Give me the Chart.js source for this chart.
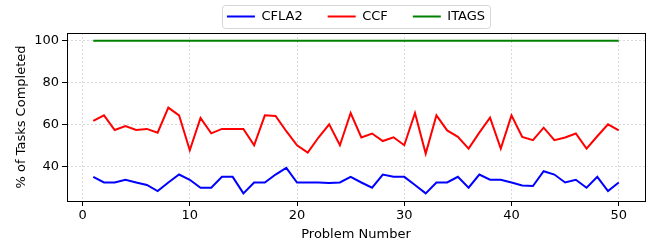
<!DOCTYPE html>
<html>
<head>
<meta charset="utf-8">
<script src="https://cdn.jsdelivr.net/npm/chart.js@4.4.1/dist/chart.umd.min.js"></script>
<style>
  html, body { margin: 0; padding: 0; background: #fff; }
  #wrap { width: 656px; height: 247px; }
</style>
</head>
<body>
<div id="wrap"><canvas id="taskChart" width="656" height="247"></canvas></div>
<script>
// problem numbers on the x axis
const problems = [1, 2, 3, 4, 5, 6, 7, 8, 9, 10, 11, 12, 13, 14, 15, 16, 17, 18, 19, 20,
  21, 22, 23, 24, 25, 26, 27, 28, 29, 30, 31, 32, 33, 34, 35, 36, 37, 38, 39, 40,
  41, 42, 43, 44, 45, 46, 47, 48, 49, 50];

// % of tasks completed
const cfla2 = [34.9, 32.2, 32.2, 33.5, 32.2, 31.0, 28.1, 32.2, 36.0, 33.5,
  29.7, 29.7, 34.9, 34.9, 27.0, 32.2, 32.2, 36.0, 39.2, 32.2,
  32.2, 32.2, 32.0, 32.2, 34.9, 32.2, 29.7, 36.0, 34.9, 34.9,
  31.0, 27.0, 32.2, 32.2, 34.9, 29.7, 36.0, 33.5, 33.5, 32.2,
  30.8, 30.5, 37.6, 36.0, 32.2, 33.5, 29.7, 34.9, 28.1, 32.2];

const ccf = [61.6, 64.3, 57.3, 59.2, 57.3, 57.8, 56.0, 68.0, 64.3, 47.6,
  63.0, 55.7, 57.8, 57.8, 57.8, 50.0, 64.3, 64.0, 56.7, 50.0,
  46.5, 53.7, 60.0, 50.0, 65.4, 53.7, 55.6, 52.0, 53.8, 50.0,
  65.4, 46.0, 64.3, 57.1, 54.0, 48.4, 56.0, 63.2, 48.4, 64.3,
  54.0, 52.4, 58.4, 52.4, 53.7, 55.6, 48.4, 54.3, 60.0, 57.1];

const itags = [100, 100, 100, 100, 100, 100, 100, 100, 100, 100,
  100, 100, 100, 100, 100, 100, 100, 100, 100, 100,
  100, 100, 100, 100, 100, 100, 100, 100, 100, 100,
  100, 100, 100, 100, 100, 100, 100, 100, 100, 100,
  100, 100, 100, 100, 100, 100, 100, 100, 100, 100];

const xTicks = [0, 10, 20, 30, 40, 50];
const yTicks = [40, 60, 80, 100];

const FONT = 'DejaVu Sans';

function toPoints(values) {
  return problems.map((p, i) => ({ x: p, y: values[i] }));
}

// box around plot + legend frame (matplotlib style)
const framePlugin = {
  id: 'frame',
  afterDatasetsDraw(chart) {
    const { ctx, chartArea: a } = chart;
    ctx.save();
    ctx.strokeStyle = '#000';
    ctx.lineWidth = 1;
    ctx.strokeRect(Math.round(a.left) + 0.5, Math.round(a.top) + 0.5,
      Math.round(a.right - a.left), Math.round(a.bottom - a.top));
    ctx.restore();
  },
  afterDraw(chart) {
    const boxes = chart.legend.legendHitBoxes;
    if (!boxes || !boxes.length) return;
    const l = Math.min(...boxes.map(b => b.left)) - 5;
    const r = Math.max(...boxes.map(b => b.left + b.width)) + 5;
    const t = Math.min(...boxes.map(b => b.top)) - 5;
    const btm = Math.max(...boxes.map(b => b.top + b.height)) + 5;
    const ctx = chart.ctx;
    ctx.save();
    ctx.strokeStyle = '#d6d6d6';
    ctx.lineWidth = 1;
    ctx.beginPath();
    ctx.roundRect(Math.round(l) + 0.5, Math.round(t) + 0.5, Math.round(r - l), Math.round(btm - t), 3);
    ctx.stroke();
    ctx.restore();
  }
};

const ctx = document.getElementById('taskChart').getContext('2d');
new Chart(ctx, {
  type: 'line',
  data: {
    datasets: [
      { label: 'CFLA2', data: toPoints(cfla2), borderColor: '#0000ff', backgroundColor: '#0000ff', borderWidth: 2, pointRadius: 0, tension: 0 },
      { label: 'CCF', data: toPoints(ccf), borderColor: '#ff0000', backgroundColor: '#ff0000', borderWidth: 2, pointRadius: 0, tension: 0 },
      { label: 'ITAGS', data: toPoints(itags), borderColor: '#008000', backgroundColor: '#008000', borderWidth: 2, pointRadius: 0, tension: 0 }
    ]
  },
  options: {
    responsive: false,
    animation: false,
    devicePixelRatio: 1,
    layout: { padding: { left: 0, right: 11, top: -15, bottom: 0 } },
    plugins: {
      tooltip: { enabled: false },
      legend: {
        position: 'top',
        fullSize: false,
        labels: {
          usePointStyle: true,
          pointStyle: 'line',
          pointStyleWidth: 28,
          boxHeight: 13,
          padding: 25,
          color: '#000',
          font: { family: FONT, size: 13 }
        }
      }
    },
    scales: {
      x: {
        type: 'linear',
        min: -1.45,
        max: 52.45,
        afterBuildTicks: s => { s.ticks = xTicks.map(v => ({ value: v })); },
        afterFit: s => { s.height = 46; },
        grid: { color: '#d9d9d9', tickColor: '#000', tickBorderDash: [], tickLength: 5 },
        border: { display: false, dash: [2, 2] },
        ticks: { color: '#000', font: { family: FONT, size: 13 }, padding: 2, maxRotation: 0 },
        title: { display: true, text: 'Problem Number', color: '#000', font: { family: FONT, size: 13 }, padding: { top: 0, bottom: 5 } }
      },
      y: {
        min: 23.35,
        max: 103.65,
        afterBuildTicks: s => { s.ticks = yTicks.map(v => ({ value: v })); },
        afterFit: s => { s.width = 67; },
        grid: { color: '#d9d9d9', tickColor: '#000', tickBorderDash: [], tickLength: 5 },
        border: { display: false, dash: [2, 2] },
        ticks: { color: '#000', font: { family: FONT, size: 13 }, padding: 3 },
        title: { display: true, text: '% of Tasks Completed', color: '#000', font: { family: FONT, size: 13 }, padding: { top: 14, bottom: 0 } }
      }
    }
  },
  plugins: [framePlugin]
});
</script>
</body>
</html>
